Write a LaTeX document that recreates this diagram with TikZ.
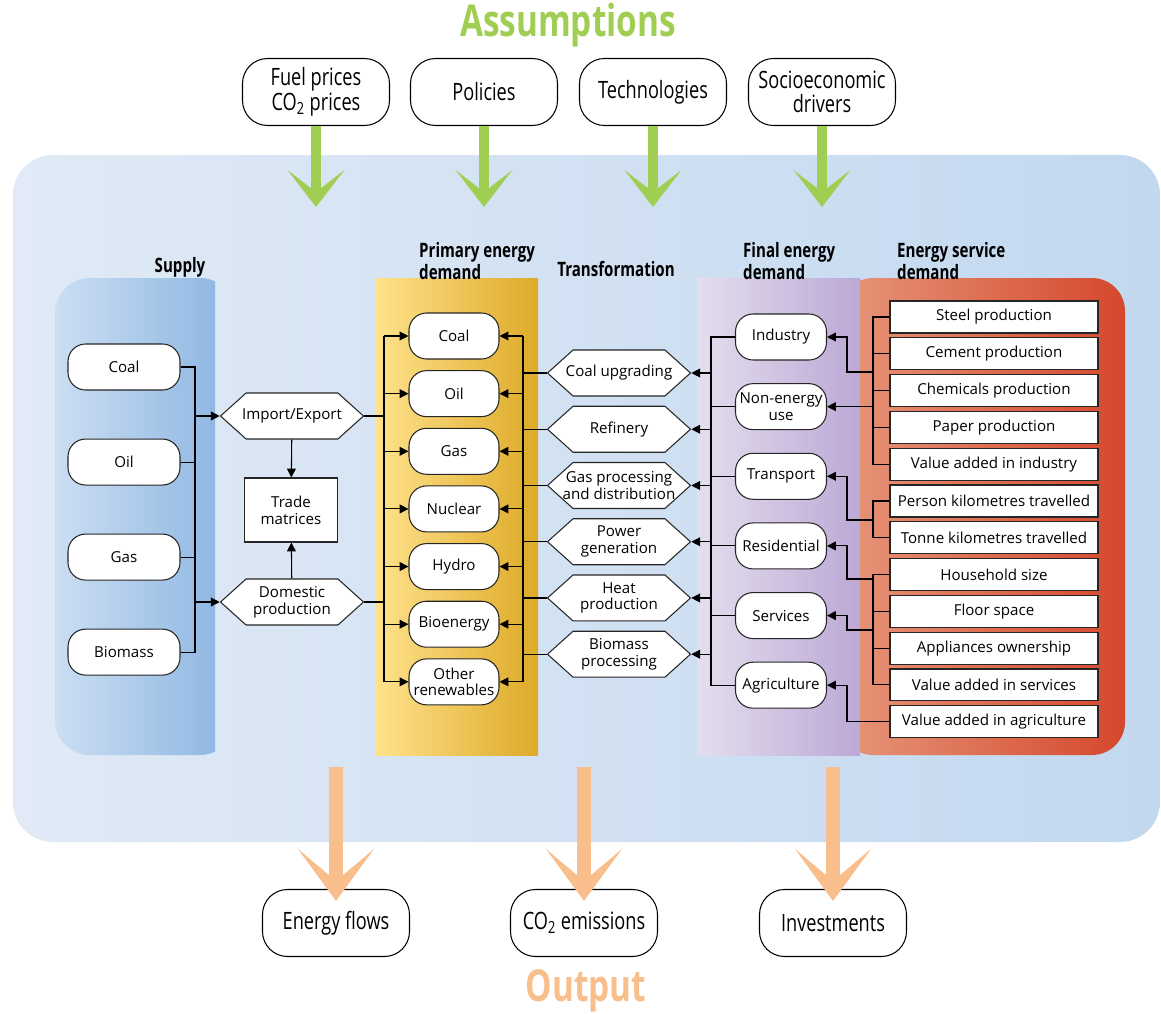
\documentclass[tikz,border=0pt]{standalone}
\usepackage{fontspec}
\setmainfont{Open Sans}
\newfontfamily\condfont[FakeStretch=0.76]{Open Sans}
\usetikzlibrary{arrows.meta, positioning, shapes.symbols}
\definecolor{assumgreen}{RGB}{160,206,82}
\definecolor{outpeach}{RGB}{248,190,140}
\definecolor{panelleft}{RGB}{225,234,246}
\definecolor{panelright}{RGB}{194,216,239}
\definecolor{supplyleft}{RGB}{203,222,242}
\definecolor{supplyright}{RGB}{138,180,225}
\definecolor{primleft}{RGB}{255,226,140}
\definecolor{primmid}{RGB}{255,204,0}
\definecolor{primright}{RGB}{222,170,40}
\definecolor{finleft}{RGB}{228,222,238}
\definecolor{finright}{RGB}{188,168,213}
\definecolor{servleft}{RGB}{230,150,122}
\definecolor{servright}{RGB}{213,72,45}
\newcommand{\boxfont}{\fontsize{8.6}{9.6}\selectfont}

\begin{document}
\begin{tikzpicture}[
                x=0.02cm, y=-0.02cm,
                node distance=0.2cm,
                pill/.style={rectangle, draw=black!85, line width=0.6pt, fill=white, rounded corners=10pt, minimum height=0.92cm, inner xsep=1pt, inner ysep=1pt, align=center, font=\boxfont},
                spill/.style={pill, minimum width=2.24cm},
                ppill/.style={pill, minimum width=1.8cm},
                fpill/.style={pill, minimum width=1.82cm},
                hexbox/.style={signal, signal to=west and east, signal pointer angle=84, draw=black!85, line width=0.6pt, fill=white, minimum width=2.86cm, minimum height=0.92cm, inner xsep=-6pt, inner ysep=1pt, align=center, font=\boxfont},
                tradebox/.style={rectangle, draw=black!85, line width=0.6pt, fill=white, minimum width=1.86cm, minimum height=1.28cm, align=center, font=\boxfont},
                svbox/.style={rectangle, draw=black!85, line width=0.6pt, fill=white, minimum width=4.16cm, minimum height=0.64cm, inner sep=1pt, font=\boxfont},
                topbox/.style={rectangle, draw=black, line width=0.6pt, fill=white, rounded corners=0.5cm, minimum width=2.94cm, minimum height=1.34cm, align=center, font=\condfont\fontsize{13.6}{14}\selectfont},
                head/.style={align=left, font=\condfont\bfseries\fontsize{11.3}{10.5}\selectfont},
                title/.style={font=\condfont\bfseries\fontsize{25}{26}\selectfont},
                link/.style={line width=0.6pt, black},
                arr/.style={link, -{Triangle[length=5pt, width=5pt]}},
                garrow/.style={line width=0.2cm, assumgreen, -{Stealth[length=0.74cm, width=1.14cm, inset=0.44cm, line width=0pt]}},
                oarrow/.style={line width=0.28cm, outpeach, -{Stealth[length=1.04cm, width=1.52cm, inset=0.64cm, line width=0pt]}}
            ]
                \useasboundingbox (0,0) rectangle (1161,1014);

                % model panel and columns
                \shade[left color=panelleft, right color=panelright, rounded corners=0.8cm] (13,155) rectangle (1160,842);
                \begin{scope}
                    \clip (55,278) rectangle (215,755);
                    \shade[left color=supplyleft, right color=supplyright, rounded corners=0.7cm] (55,278) rectangle (235,755);
                \end{scope}
                \shade[left color=primleft, middle color=primmid, right color=primright] (375,278) rectangle (538,755);
                \shade[left color=finleft, right color=finright] (697,278) rectangle (860,755);
                \begin{scope}
                    \clip (860,278) rectangle (1125,755);
                    \shade[left color=servleft, right color=servright, rounded corners=0.66cm] (840,278) rectangle (1125,755);
                \end{scope}

                \node[title, text=assumgreen] (assum) at (568,25) {Assumptions};
                \node[title, text=outpeach] (output) at (586,991) {Output};

                \node[head] (hsupply) at (180,267) {Supply};
                \node[head, anchor=west] (hprim) at (413,261) {Primary energy\\demand};
                \node[head] (htrans) at (616,269) {Transformation};
                \node[head, anchor=west] (hfin) at (737,261) {Final energy\\demand};
                \node[head, anchor=west] (hserv) at (891,261) {Energy service\\demand};

                \node[topbox] (tfuel) at (316,92) {Fuel prices\\CO\textsubscript{2} prices};
                \node[topbox] (tpol) at (484,92) {Policies};
                \node[topbox] (ttech) at (653,92) {Technologies};
                \node[topbox] (tsocio) at (822,92) {Socioeconomic\\drivers};

                \node[topbox] (oflow) at (336,923) {Energy flows};
                \node[topbox] (oco) at (584,923) {CO\textsubscript{2} emissions};
                \node[topbox] (oinv) at (833,923) {Investments};

                % supply
                \node[spill] (scoal) at (124,367) {Coal};
                \node[spill, below=0.96cm of scoal] (soil) {Oil};
                \node[spill, below=0.96cm of soil] (sgas) {Gas};
                \node[spill, below=0.96cm of sgas] (sbio) {Biomass};
                \node[hexbox] (imex) at (292,416) {Import/Export};
                \node[tradebox] (trade) at (291,510) {Trade\\matrices};
                \node[hexbox] (domprod) at (292,602) {Domestic\\production};

                % primary energy demand
                \node[ppill] (pcoal) at (454,336) {Coal};
                \node[ppill, below=0.212cm of pcoal] (poil) {Oil};
                \node[ppill, below=0.212cm of poil] (pgas) {Gas};
                \node[ppill, below=0.212cm of pgas] (pnuc) {Nuclear};
                \node[ppill, below=0.212cm of pnuc] (phydro) {Hydro};
                \node[ppill, below=0.212cm of phydro] (pbio) {Bioenergy};
                \node[ppill, below=0.212cm of pbio] (pother) {Other\\renewables};

                % transformation
                \node[hexbox] (tcoal) at (619,373) {Coal upgrading};
                \node[hexbox, below=0.184cm of tcoal] (tref) {Refinery};
                \node[hexbox, below=0.184cm of tref] (tgas) {Gas processing\\and distribution};
                \node[hexbox, below=0.184cm of tgas] (tpow) {Power\\generation};
                \node[hexbox, below=0.184cm of tpow] (theat) {Heat\\production};
                \node[hexbox, below=0.184cm of theat] (tbio) {Biomass\\processing};

                % final energy demand
                \node[fpill] (find) at (781,337) {Industry};
                \node[fpill, below=0.452cm of find] (fnon) {Non-energy\\use};
                \node[fpill, below=0.452cm of fnon] (ftrans) {Transport};
                \node[fpill, below=0.452cm of ftrans] (fres) {Residential};
                \node[fpill, below=0.452cm of fres] (fserv) {Services};
                \node[fpill, below=0.452cm of fserv] (fagri) {Agriculture};

                % energy service demand
                \node[svbox] (steel) at (994,317) {Steel production};
                \node[svbox, below=0.075cm of steel] (cement) {Cement production};
                \node[svbox, below=0.075cm of cement] (chem) {Chemicals production};
                \node[svbox, below=0.075cm of chem] (paper) {Paper production};
                \node[svbox, below=0.075cm of paper] (vaind) {Value added in industry};
                \node[svbox, below=0.075cm of vaind] (pkm) {Person kilometres travelled};
                \node[svbox, below=0.075cm of pkm] (tkm) {Tonne kilometres travelled};
                \node[svbox, below=0.075cm of tkm] (hhs) {Household size};
                \node[svbox, below=0.075cm of hhs] (floor) {Floor space};
                \node[svbox, below=0.075cm of floor] (appl) {Appliances ownership};
                \node[svbox, below=0.075cm of appl] (vaserv) {Value added in services};
                \node[svbox, below=0.075cm of vaserv] (vaagr) {Value added in agriculture};

                \coordinate (sbus) at (195,0);
                \coordinate (pbusl) at (384,0);
                \coordinate (pbusr) at (523,0);
                \coordinate (fbus) at (711,0);
                \coordinate (gbus) at (873,0);
                \coordinate (elb) at (847,0);
                \coordinate (indjoin) at (873,372);
                \coordinate (trjoin) at (873,520);
                \coordinate (resjoin) at (873,579);
                \coordinate (srvjoin) at (873,630);
                \coordinate (gtip) at (0,207);
                \coordinate (otop) at (0,767);

                % supply connectors
                \draw[link] (scoal.east) -| (sbio.east -| sbus) -- (sbio.east);
                \draw[link] (soil.east) -- (soil.east -| sbus);
                \draw[link] (sgas.east) -- (sgas.east -| sbus);
                \draw[arr] (imex.west -| sbus) -- (imex.west);
                \draw[arr] (domprod.west -| sbus) -- (domprod.west);
                \draw[arr] (imex) -- (trade);
                \draw[arr] (domprod) -- (trade);
                \draw[link] (imex.east) -- (imex.east -| pbusl);
                \draw[link] (domprod.east) -- (domprod.east -| pbusl);

                % primary connectors
                \draw[link] (pcoal.west -| pbusl) -- (pother.west -| pbusl);
                \draw[arr] (pcoal.west -| pbusl) -- (pcoal.west);
                \draw[arr] (poil.west -| pbusl) -- (poil.west);
                \draw[arr] (pgas.west -| pbusl) -- (pgas.west);
                \draw[arr] (pnuc.west -| pbusl) -- (pnuc.west);
                \draw[arr] (phydro.west -| pbusl) -- (phydro.west);
                \draw[arr] (pbio.west -| pbusl) -- (pbio.west);
                \draw[arr] (pother.west -| pbusl) -- (pother.west);
                \draw[link] (pcoal.east -| pbusr) -- (pother.east -| pbusr);
                \draw[arr] (pcoal.east -| pbusr) -- (pcoal.east);
                \draw[arr] (poil.east -| pbusr) -- (poil.east);
                \draw[arr] (pgas.east -| pbusr) -- (pgas.east);
                \draw[arr] (pnuc.east -| pbusr) -- (pnuc.east);
                \draw[arr] (phydro.east -| pbusr) -- (phydro.east);
                \draw[arr] (pbio.east -| pbusr) -- (pbio.east);
                \draw[arr] (pother.east -| pbusr) -- (pother.east);

                % transformation connectors
                \draw[link] (tcoal.west) -- (tcoal.west -| pbusr);
                \draw[link] (tref.west) -- (tref.west -| pbusr);
                \draw[link] (tgas.west) -- (tgas.west -| pbusr);
                \draw[link] (tpow.west) -- (tpow.west -| pbusr);
                \draw[link] (theat.west) -- (theat.west -| pbusr);
                \draw[link] (tbio.west) -- (tbio.west -| pbusr);
                \draw[arr] (tcoal.east -| fbus) -- (tcoal.east);
                \draw[arr] (tref.east -| fbus) -- (tref.east);
                \draw[arr] (tgas.east -| fbus) -- (tgas.east);
                \draw[arr] (tpow.east -| fbus) -- (tpow.east);
                \draw[arr] (theat.east -| fbus) -- (theat.east);
                \draw[arr] (tbio.east -| fbus) -- (tbio.east);

                % final energy connectors
                \draw[link] (find.west) -| (fagri.west -| fbus) -- (fagri.west);
                \draw[link] (fnon.west) -- (fnon.west -| fbus);
                \draw[link] (ftrans.west) -- (ftrans.west -| fbus);
                \draw[link] (fres.west) -- (fres.west -| fbus);
                \draw[link] (fserv.west) -- (fserv.west -| fbus);

                % energy service connectors
                \draw[link] (steel.west) -| (vaind.west -| gbus) -- (vaind.west);
                \draw[link] (cement.west) -- (cement.west -| gbus);
                \draw[link] (chem.west) -- (chem.west -| gbus);
                \draw[link] (paper.west) -- (paper.west -| gbus);
                \draw[link] (pkm.west) -| (tkm.west -| gbus) -- (tkm.west);
                \draw[link] (hhs.west) -| (vaserv.west -| gbus) -- (vaserv.west);
                \draw[link] (floor.west) -- (floor.west -| gbus);
                \draw[link] (appl.west) -- (appl.west -| gbus);
                \draw[arr] (indjoin) -| (find.east -| elb) -- (find.east);
                \draw[arr] (fnon.east -| gbus) -- (fnon.east);
                \draw[arr] (trjoin) -| (ftrans.east -| elb) -- (ftrans.east);
                \draw[arr] (resjoin) -| (fres.east -| elb) -- (fres.east);
                \draw[arr] (srvjoin) -| (fserv.east -| elb) -- (fserv.east);
                \draw[arr] (vaagr.west) -| (fagri.east -| elb) -- (fagri.east);

                % assumptions and outputs
                \draw[garrow] (tfuel.south) -- (tfuel.south |- gtip);
                \draw[garrow] (tpol.south) -- (tpol.south |- gtip);
                \draw[garrow] (ttech.south) -- (ttech.south |- gtip);
                \draw[garrow] (tsocio.south) -- (tsocio.south |- gtip);
                \draw[oarrow] (oflow.north |- otop) -- ([yshift=-0.24cm]oflow.north);
                \draw[oarrow] (oco.north |- otop) -- ([yshift=-0.24cm]oco.north);
                \draw[oarrow] (oinv.north |- otop) -- ([yshift=-0.24cm]oinv.north);
            \end{tikzpicture}
\end{document}
